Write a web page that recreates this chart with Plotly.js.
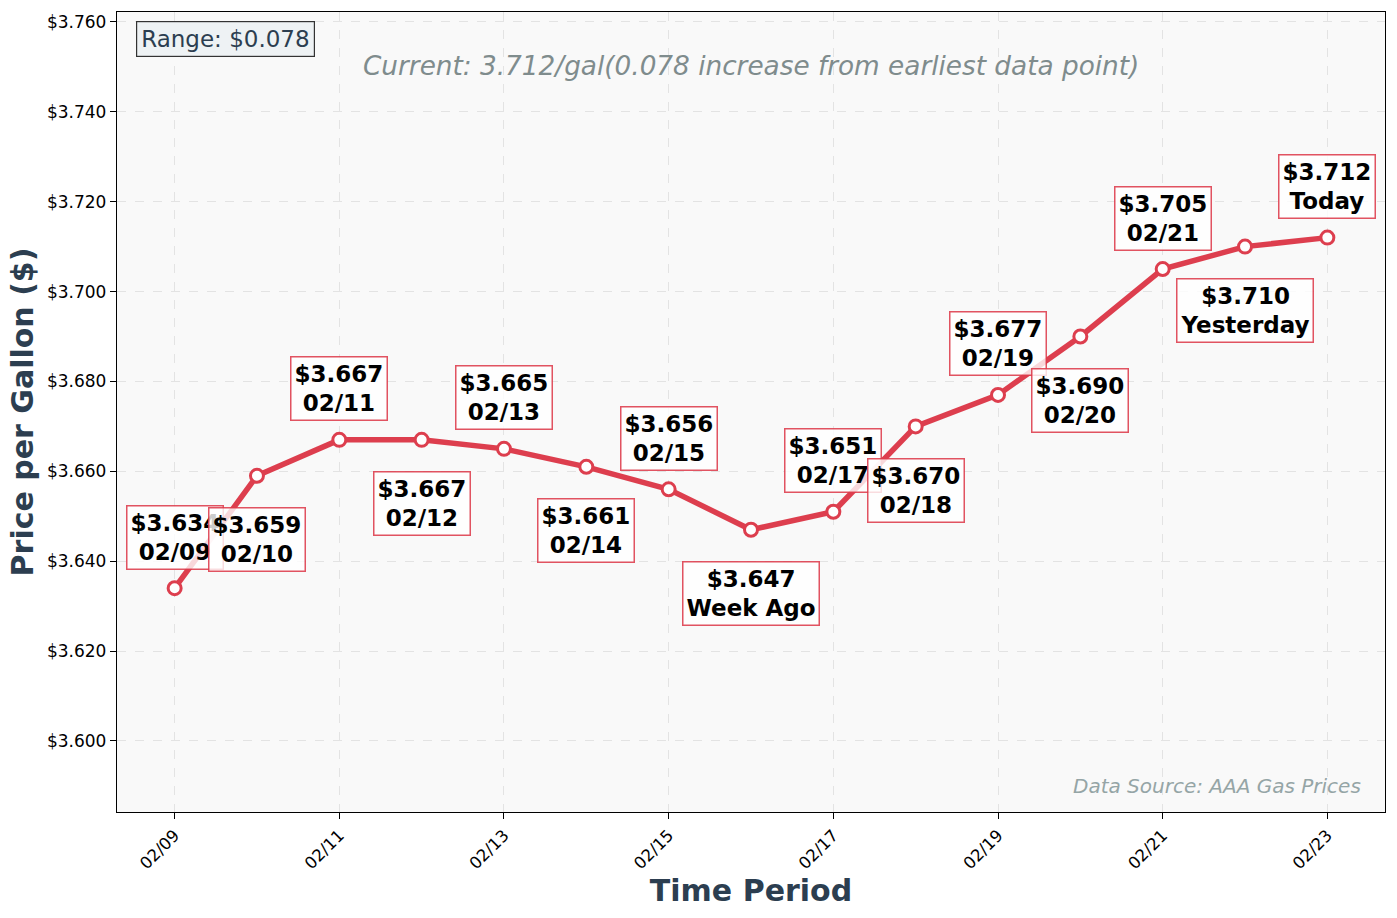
<!DOCTYPE html>
<html>
<head>
<meta charset="utf-8">
<script src="https://cdn.plot.ly/plotly-3.0.1.min.js"></script>
<style>
  html, body { margin: 0; padding: 0; background: #fff; }
  #chart { width: 1397px; height: 918px; }
</style>
</head>
<body>
<div id="chart"></div>
<script>
// daily average regular gas price, last 15 days
const dates = ["02/09", "02/10", "02/11", "02/12", "02/13", "02/14", "02/15", "02/16",
               "02/17", "02/18", "02/19", "02/20", "02/21", "02/22", "02/23"];
const prices = [3.634, 3.659, 3.667, 3.667, 3.665, 3.661, 3.656, 3.647,
                3.651, 3.670, 3.677, 3.690, 3.705, 3.710, 3.712];
// special names for a few points, the rest use the date
const pointNames = { 7: "Week Ago", 13: "Yesterday", 14: "Today" };

const yTicks = [3.600, 3.620, 3.640, 3.660, 3.680, 3.700, 3.720, 3.740, 3.760];

const red = "#dc3545";
const slate = "#2c3e50";
const font = "DejaVu Sans, sans-serif";

const xs = dates.map((d, i) => i);

const trace = {
  x: xs,
  y: prices,
  mode: "lines+markers",
  line: { color: red, width: 5.5 },
  marker: { size: 13, color: "#fff", line: { color: red, width: 3 } },
  opacity: 0.95,
  hoverinfo: "skip",
  showlegend: false
};

// labels alternate above / below
const labels = prices.map(function(p, i) {
  const name = pointNames[i] || dates[i];
  const above = i % 2 === 0;
  return {
    x: i, y: p, xref: "x", yref: "y",
    text: "$" + p.toFixed(3) + "<br>" + name,
    showarrow: false,
    yshift: above ? 51 : -64,
    font: { family: font, size: 23, color: "#000", weight: "bold" },
    bgcolor: "rgba(255,255,255,0.8)",
    bordercolor: "rgba(220,53,69,0.85)",
    borderwidth: 1.5,
    borderpad: 3
  };
});

const spread = prices[prices.length - 1] - prices[0];
const current = prices[prices.length - 1];

labels.push({
  xref: "paper", yref: "paper", x: 0.015, y: 0.989,
  xanchor: "left", yanchor: "top",
  text: "Range: $" + spread.toFixed(3),
  showarrow: false,
  font: { family: font, size: 23, color: slate },
  bgcolor: "#eef2f4", bordercolor: "#333", borderwidth: 1.2, borderpad: 4
});
labels.push({
  xref: "paper", yref: "paper", x: 0.5, y: 0.932,
  xanchor: "center", yanchor: "middle",
  text: "<i>Current: " + current.toFixed(3) + "/gal(" + spread.toFixed(3) + " increase from earliest data point)</i>",
  showarrow: false,
  font: { family: font, size: 26.3, color: "#7f8c8d" }
});
labels.push({
  xref: "paper", yref: "paper", x: 0.983, y: 0.033,
  xanchor: "right", yanchor: "middle",
  text: "<i>Data Source: AAA Gas Prices</i>",
  showarrow: false,
  font: { family: font, size: 20, color: "#95a5a6" }
});

const layout = {
  width: 1397,
  height: 918,
  margin: { l: 117, r: 12, t: 12, b: 106 },
  paper_bgcolor: "#fff",
  plot_bgcolor: "#f9f9f9",
  font: { family: font, size: 16.5, color: "#000" },
  xaxis: {
    range: [-0.7, 14.7],
    tickmode: "array",
    tickvals: xs.filter(i => i % 2 === 0),
    ticktext: dates.filter((d, i) => i % 2 === 0),
    tickangle: -45,
    tickfont: { size: 16.5 },
    ticks: "outside", ticklen: 6, tickcolor: "#000",
    showline: true, linecolor: "#000", linewidth: 1.2, mirror: true,
    showgrid: true, gridcolor: "#e3e3e3", griddash: "dash",
    zeroline: false,
    title: { text: "Time Period", font: { family: font, size: 30, color: slate, weight: "bold" }, standoff: 8 }
  },
  yaxis: {
    range: [3.5842, 3.7622],
    tickmode: "array",
    tickvals: yTicks,
    ticktext: yTicks.map(v => "$" + v.toFixed(3)),
    tickfont: { size: 17 },
    ticks: "outside", ticklen: 6, tickcolor: "#000",
    showline: true, linecolor: "#000", linewidth: 1.2, mirror: true,
    showgrid: true, gridcolor: "#e3e3e3", griddash: "dash",
    zeroline: false,
    title: { text: "Price per Gallon ($)", font: { family: font, size: 30, color: slate, weight: "bold" }, standoff: 4 }
  },
  annotations: labels
};

Plotly.newPlot("chart", [trace], layout, { displayModeBar: false, staticPlot: true });
</script>
</body>
</html>
